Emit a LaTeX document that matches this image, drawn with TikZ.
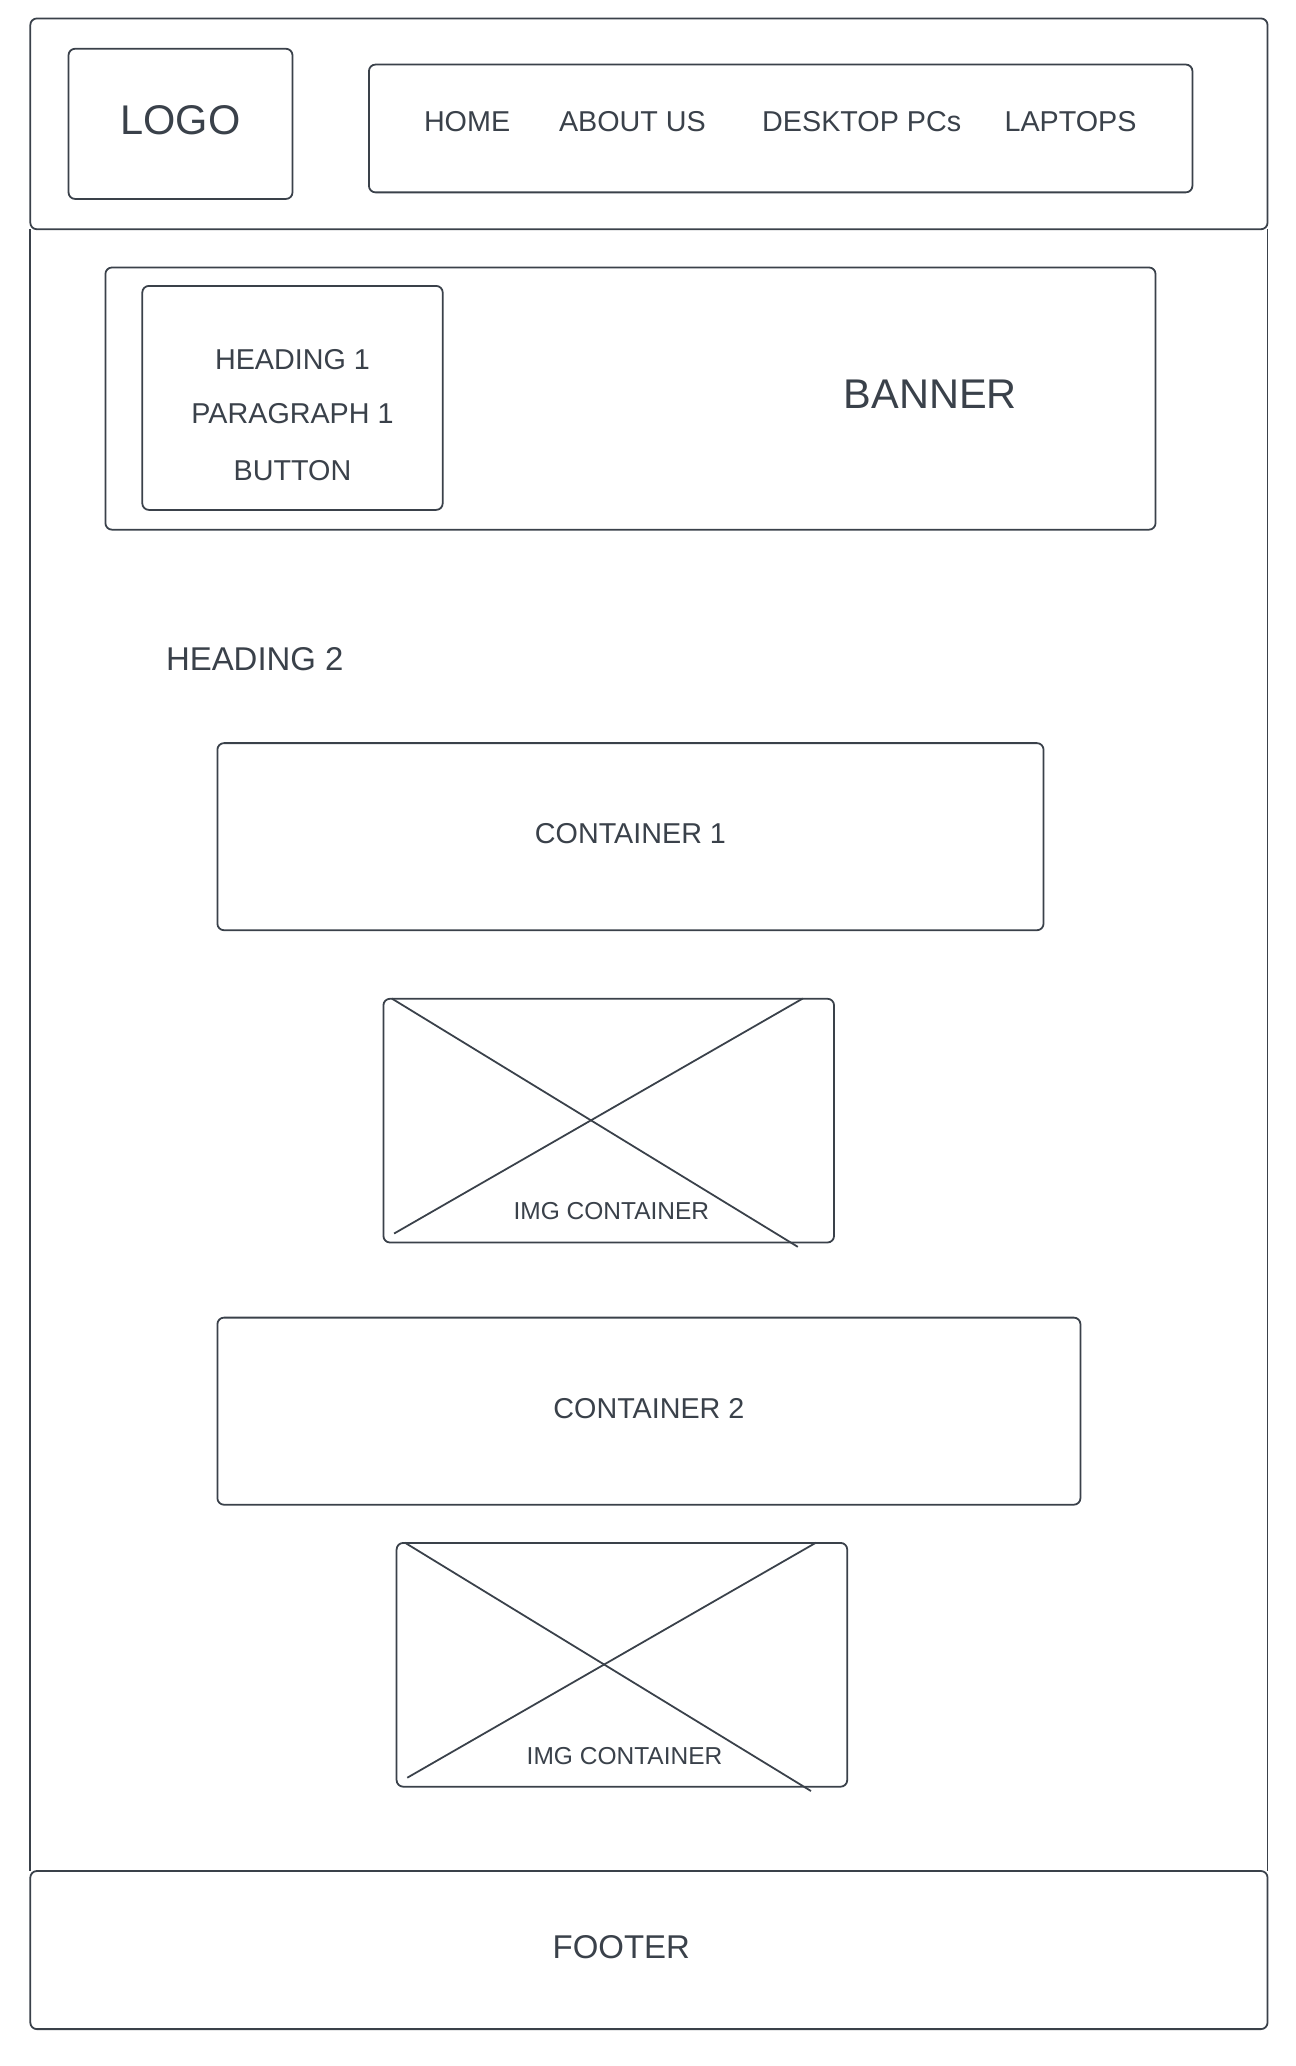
\documentclass[tikz,border=0pt]{standalone}
\usepackage{fontspec}
\setmainfont{Liberation Sans}
\usetikzlibrary{calc}
\definecolor{ink}{HTML}{3A414A}
\begin{document}
\begin{tikzpicture}[x=1pt,y=-1pt,
  frame/.style={draw=ink, line width=1.35pt, rounded corners=5pt,
    inner sep=0pt, outer sep=0pt, anchor=north west},
  rule/.style={draw=ink, line width=1.35pt},
  lbl/.style={text=ink, inner sep=0pt, outer sep=0pt},
  fsmall/.style={font=\fontsize{18.6}{22}\selectfont},
  fmid/.style={font=\fontsize{21.8}{26}\selectfont},
  fbig/.style={font=\fontsize{25}{30}\selectfont},
  fhuge/.style={font=\fontsize{31.5}{36}\selectfont}]
\useasboundingbox[fill=white] (0,0) rectangle (983,1568);

% header strip, logo and navigation
\node[frame, minimum width=939pt, minimum height=160pt] (header) at (23,14) {};
\node[frame, minimum width=170pt, minimum height=114pt] (logo) at (52,37) {};
\node[lbl, fhuge] (logotxt) at (137,91) {LOGO};
\node[frame, minimum width=625pt, minimum height=97pt] (nav) at (280,49) {};
\node[lbl, fmid] (home) at (354.5,92.5) {HOME};
\node[lbl, fmid] (about) at (480,92.5) {ABOUT US};
\node[lbl, fmid] (desktop) at (654,92.5) {DESKTOP PCs};
\node[lbl, fmid] (laptops) at (812.5,92.5) {LAPTOPS};

% footer and the page sides between header and footer
\node[frame, minimum width=939pt, minimum height=120pt] (footer) at (23,1420) {};
\node[lbl, fbig] (footertxt) at (471.5,1477.5) {FOOTER};
\draw[rule] (header.south west) -- (footer.north west);
\draw[rule] (header.south east) -- (footer.north east);

% banner
\node[frame, minimum width=797pt, minimum height=199pt] (banner) at (80,203) {};
\node[lbl, fhuge] (bannertxt) at (706,299.5) {BANNER};
\node[frame, minimum width=228pt, minimum height=170pt] (hero) at (108,217) {};
\node[lbl, fmid] (h1) at (222,273) {HEADING 1};
\node[lbl, fmid] (p1) at (222,314) {PARAGRAPH 1};
\node[lbl, fmid] (btn) at (222,357) {BUTTON};

% section heading
\node[lbl, fbig, anchor=west] (h2) at (126,500) {HEADING 2};

% first container and image
\node[frame, minimum width=627pt, minimum height=142pt] (c1) at (165,564) {};
\node[lbl, fmid] (c1txt) at (478.5,633) {CONTAINER 1};
\node[frame, minimum width=342pt, minimum height=185pt] (img1) at (291,758) {};
\draw[rule] (297.3,757.8) -- (605.5,946.3);
\draw[rule] (609.3,757.8) -- (299.1,936.2);
\node[lbl, fsmall] (img1txt) at (464,919.5) {IMG CONTAINER};

% second container and image
\node[frame, minimum width=655pt, minimum height=142pt] (c2) at (165,1000) {};
\node[lbl, fmid] (c2txt) at (492.5,1069) {CONTAINER 2};
\node[frame, minimum width=342pt, minimum height=185pt] (img2) at (301,1171) {};
\draw[rule] (307.3,1170.8) -- (615.5,1359.3);
\draw[rule] (619.3,1170.8) -- (309.1,1349.2);
\node[lbl, fsmall] (img2txt) at (474,1332.5) {IMG CONTAINER};
\end{tikzpicture}
\end{document}
